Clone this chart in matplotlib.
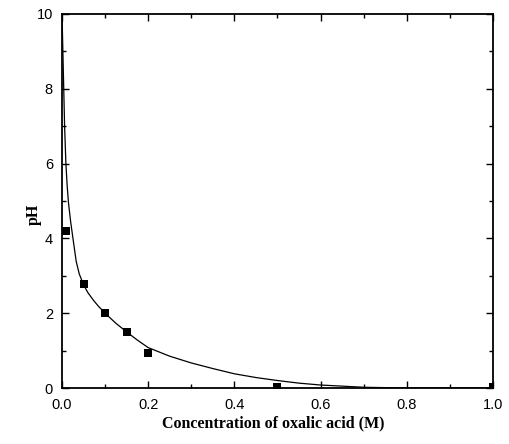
import matplotlib
matplotlib.use("Agg")
import matplotlib.pyplot as plt
from matplotlib.ticker import MultipleLocator, FormatStrFormatter

# measured data points
conc = [0.01, 0.05, 0.10, 0.15, 0.20, 0.50, 1.00]
ph = [4.2, 2.78, 2.0, 1.49, 0.94, 0.03, 0.03]

# fitted curve
curve_x = [0.0, 0.002, 0.004, 0.006, 0.009, 0.012, 0.015, 0.02, 0.026, 0.033,
           0.040, 0.05, 0.06, 0.074, 0.085, 0.10, 0.125, 0.15, 0.175, 0.20,
           0.25, 0.30, 0.35, 0.40, 0.45, 0.50, 0.55, 0.60, 0.65, 0.70, 0.75,
           0.80, 0.90, 1.00]
curve_y = [10.0, 9.0, 8.0, 7.0, 6.0, 5.4, 4.95, 4.45, 3.95, 3.38,
           3.05, 2.76, 2.55, 2.33, 2.18, 2.0, 1.73, 1.5, 1.28, 1.08,
           0.85, 0.67, 0.52, 0.38, 0.28, 0.2, 0.13, 0.08, 0.05, 0.02, 0.01,
           0.0, 0.0, 0.0]

fig = plt.figure(figsize=(5.1, 4.44), dpi=100)
ax = fig.add_axes([0.1216, 0.1261, 0.845, 0.8424])

ax.plot(curve_x, curve_y, color="black", linewidth=0.9)
ax.plot(conc, ph, linestyle="none", marker="s", markersize=5.8,
        color="black", markeredgewidth=0)

ax.set_xlim(0, 1.0)
ax.set_ylim(0, 10)
ax.xaxis.set_major_locator(MultipleLocator(0.2))
ax.xaxis.set_minor_locator(MultipleLocator(0.1))
ax.yaxis.set_major_locator(MultipleLocator(2))
ax.yaxis.set_minor_locator(MultipleLocator(1))
ax.xaxis.set_major_formatter(FormatStrFormatter("%.1f"))

for s in ax.spines.values():
    s.set_linewidth(1.3)

ax.tick_params(which="both", direction="in", top=True, right=True, width=1.0,
               labelsize=10.5, labelfontfamily="Liberation Sans")
ax.tick_params(which="major", length=5)
ax.tick_params(axis="x", which="major", pad=7)
ax.tick_params(axis="y", which="major", pad=6.5)
ax.tick_params(which="minor", length=3)

ax.set_xlabel("Concentration of oxalic acid (M)", family="Liberation Serif",
              fontweight="bold", fontsize=11.5)
ax.set_ylabel("pH", family="Liberation Serif", fontweight="bold",
              fontsize=11.5)
ax.xaxis.set_label_coords(0.49, -0.072)
ax.yaxis.set_label_coords(-0.048, 0.464)

fig.savefig("out.png", dpi=100)
